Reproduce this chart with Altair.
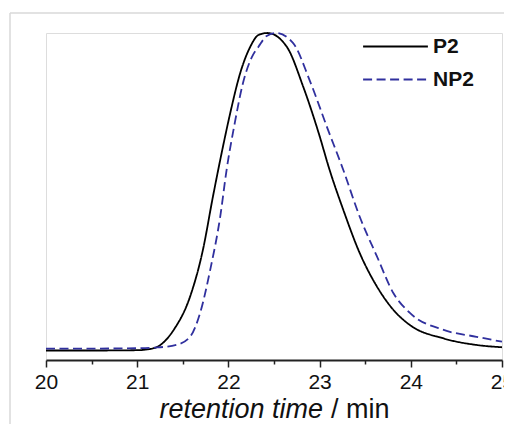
import altair as alt
import pandas as pd

# retention time (min) and normalized detector signal
p2_time = [20.0, 20.5, 21.0, 21.18, 21.40, 21.58, 21.72, 21.83, 21.94, 22.02, 22.13,
           22.24, 22.33, 22.43, 22.64, 22.82, 22.99, 23.11, 23.26, 23.44, 23.63,
           23.81, 23.99, 24.36, 24.72, 25.0]
p2_signal = [0.029, 0.029, 0.030, 0.036, 0.092, 0.194, 0.336, 0.499, 0.652, 0.755, 0.878,
             0.958, 0.994, 1.000, 0.958, 0.836, 0.694, 0.581, 0.459, 0.327, 0.224,
             0.153, 0.107, 0.066, 0.046, 0.039]

np2_time = [20.0, 20.5, 21.0, 21.2, 21.43, 21.58, 21.69, 21.80, 21.91, 21.98, 22.07,
            22.16, 22.26, 22.33, 22.42, 22.52, 22.71, 22.89, 23.08, 23.26, 23.44,
            23.63, 23.81, 23.99, 24.36, 24.72, 25.0]
np2_signal = [0.035, 0.035, 0.036, 0.038, 0.046, 0.071, 0.144, 0.275, 0.438, 0.581, 0.725,
              0.847, 0.928, 0.958, 0.991, 1.000, 0.969, 0.856, 0.713, 0.581, 0.438,
              0.316, 0.204, 0.144, 0.092, 0.071, 0.056]

series_names = ["P2", "NP2"]
series_colors = ["#000000", "#30309e"]
tick_values = [20, 20.5, 21, 21.5, 22, 22.5, 23, 23.5, 24, 24.5, 25]

df = pd.concat([
    pd.DataFrame({"time": p2_time, "signal": p2_signal, "sample": "P2"}),
    pd.DataFrame({"time": np2_time, "signal": np2_signal, "sample": "NP2"}),
])

FONT = "Liberation Sans"

x_scale = alt.Scale(domain=[20, 25], nice=False, zero=False)

lines = alt.Chart(df).mark_line(interpolate="monotone", strokeWidth=1.8).encode(
    x=alt.X("time:Q", scale=x_scale,
            axis=alt.Axis(values=tick_values, title=None,
                          labelExpr="datum.value % 1 === 0 ? format(datum.value, 'd') : ''",
                          labelFont=FONT, labelFontSize=21, labelColor="#111",
                          labelFlush=False, labelOverlap=False, labelPadding=4,
                          tickSize={"condition": {"test": "datum.value % 1 !== 0", "value": 4}, "value": 7},
                          tickColor="#222", tickWidth=1.5,
                          domainColor="#222", domainWidth=2, grid=False)),
    y=alt.Y("signal:Q", scale=alt.Scale(domain=[0, 1], nice=False), axis=None),
    color=alt.Color("sample:N", scale=alt.Scale(domain=series_names, range=series_colors),
                    legend=alt.Legend(title=None, orient="none", legendX=316, legendY=-3,
                                      symbolType="stroke", symbolSize=4200, symbolStrokeWidth=2,
                                      labelFont=FONT, labelFontSize=21, labelFontWeight="bold",
                                      labelColor="#111", labelOffset=4,
                                      clipHeight=33, rowPadding=0)),
    strokeDash=alt.StrokeDash("sample:N",
                              scale=alt.Scale(domain=series_names, range=[[1, 0], [9, 4.5]]),
                              legend=None),
    order=alt.Order("time:Q"),
)

title_italic = alt.Chart(pd.DataFrame({"t": ["retention time"]})).mark_text(
    font=FONT, fontSize=27, fontStyle="italic", align="right", baseline="alphabetic", color="#111"
).encode(text="t:N", x=alt.value(277), y=alt.value(385))

title_plain = alt.Chart(pd.DataFrame({"t": ["/ min"]})).mark_text(
    font=FONT, fontSize=27, align="left", baseline="alphabetic", color="#111"
).encode(text="t:N", x=alt.value(285), y=alt.value(385))

frame_left = alt.Chart(pd.DataFrame({"a": [0]})).mark_rule(color="#d9d9d9", strokeWidth=1.5).encode(
    x=alt.value(-36), y=alt.value(-20), y2=alt.value(391))
frame_top = alt.Chart(pd.DataFrame({"a": [0]})).mark_rule(color="#d9d9d9", strokeWidth=1.5).encode(
    x=alt.value(-36), x2=alt.value(458), y=alt.value(-20))

chart = alt.layer(frame_left, frame_top, lines, title_italic, title_plain).properties(
    width=456, height=327,
    autosize=alt.AutoSizeParams(type="none"),
    padding={"left": 38, "top": 25, "right": 2, "bottom": 64},
).configure_view(stroke=None).configure(background="white")

chart.save("out.html", embed_options={"renderer": "svg", "actions": False})
